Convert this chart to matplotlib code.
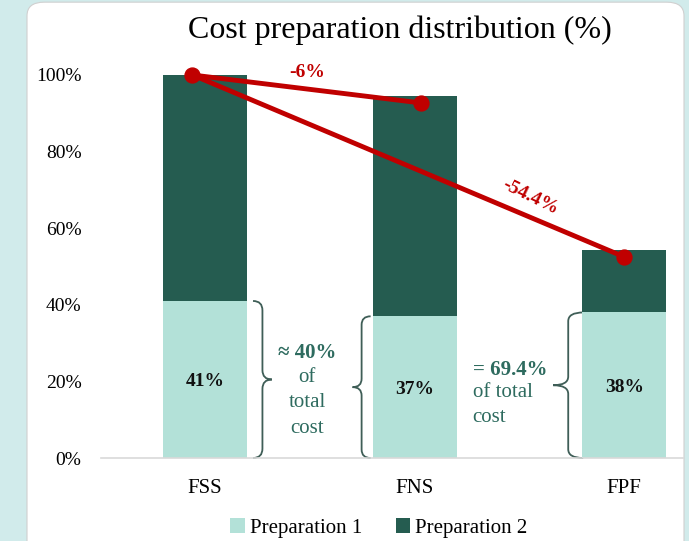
import numpy as np
import matplotlib.pyplot as plt
from matplotlib.patches import FancyBboxPatch, PathPatch
from matplotlib.path import Path

plt.rcParams['font.family'] = ['Liberation Serif', 'DejaVu Serif']

# data
categories = ['FSS', 'FNS', 'FPF']
prep1 = [41, 37, 38]
totals = [100, 94.4, 54.4]
prep2 = [t - p for t, p in zip(totals, prep1)]
line_x = [-0.06, 1.03, 2.0]
line_vals = [100, 92.7, 52.5]
change_labels = ['-6%', '-54.4%']

light = '#b3e1d8'
dark = '#255c50'
red = '#c00000'
note_col = '#2e6b5f'
brace_col = '#3f5e57'


def brace(ax, x, y0, y1, w, color):
    # curly brace from y0 to y1, base at x, tip at x + w
    ym = (y0 + y1) / 2
    r = (y1 - y0) * 0.06
    xm = x + w / 2
    verts = [(x, y0), (xm, y0), (xm, y0 + r),
             (xm, ym - r),
             (xm, ym), (x + w, ym),
             (xm, ym), (xm, ym + r),
             (xm, y1 - r),
             (xm, y1), (x, y1)]
    codes = [Path.MOVETO, Path.CURVE3, Path.CURVE3,
             Path.LINETO,
             Path.CURVE3, Path.CURVE3,
             Path.CURVE3, Path.CURVE3,
             Path.LINETO,
             Path.CURVE3, Path.CURVE3]
    ax.add_patch(PathPatch(Path(verts, codes), fill=False, ec=color, lw=1.3,
                           clip_on=False))


fig = plt.figure(figsize=(6.89, 5.41), dpi=100)
fig.patch.set_facecolor('#d1ebeb')
card = FancyBboxPatch((27 / 689, -0.05), 657 / 689, 1.046,
                      boxstyle='round,pad=0,rounding_size=0.025',
                      transform=fig.transFigure, fc='white', ec='#d0d0d0',
                      lw=0.8, zorder=-10)
fig.patches.append(card)

ax = fig.add_axes([0.1466, 0.1534, 0.8447, 0.7788])
ax.set_facecolor('none')
x = np.arange(len(categories))
ax.bar(x, prep1, 0.4, color=light, label='Preparation 1', zorder=2)
ax.bar(x, prep2, 0.4, bottom=prep1, color=dark, label='Preparation 2', zorder=2)

for xi, p in zip(x, prep1):
    ax.text(xi, p / 2 - 0.5, f'{p}%', ha='center', va='center', fontsize=14,
            fontweight='bold', color='#111111', zorder=3)

# change lines
for j in (1, 2):
    ax.plot([line_x[0], line_x[j]], [line_vals[0], line_vals[j]], color=red,
            lw=3.5, solid_capstyle='round', zorder=4, clip_on=False)
ax.scatter(line_x, line_vals, s=115, color=red, zorder=5, clip_on=False)
ax.text(0.487, 100.6, change_labels[0], color=red, fontsize=14,
        fontweight='bold', ha='center', va='center')
ax.text(1.554, 68.0, change_labels[1], color=red, fontsize=14,
        fontweight='bold', ha='center', va='center', rotation=-26)

# braces and notes
brace(ax, 0.229, 0, prep1[0], 0.09, brace_col)
brace(ax, 0.79, 0, prep1[1], -0.086, brace_col)
brace(ax, 1.804, 0, prep1[2], -0.143, brace_col)
ax.text(0.487, 27.4, '≈ 40%', color=note_col, fontsize=15, fontweight='bold',
        ha='center', va='center')
ax.text(0.487, 14.4, 'of\ntotal\ncost', color=note_col, fontsize=15,
        ha='center', va='center', linespacing=1.45)
ax.text(1.277, 23.0, '= 69.4%', color=note_col, fontsize=15,
        fontweight='bold', ha='left', va='center')
ax.text(1.277, 13.8, 'of total\ncost', color=note_col, fontsize=15,
        ha='left', va='center', linespacing=1.4)

ax.set_xlim(-0.496, 2.28)
ax.set_ylim(0, 110)
ax.set_yticks([0, 20, 40, 60, 80, 100])
ax.set_yticklabels([f'{v}%' for v in [0, 20, 40, 60, 80, 100]], fontsize=14)
ax.set_xticks(x)
ax.set_xticklabels(categories, fontsize=15)
ax.tick_params(length=0, pad=14, axis='y')
ax.tick_params(length=0, pad=15, axis='x')
for s in ['top', 'right', 'left']:
    ax.spines[s].set_visible(False)
ax.spines['bottom'].set_color('#d9d9d9')
ax.spines['bottom'].set_linewidth(1.2)

fig.text(0.58, 0.945, 'Cost preparation distribution (%)', fontsize=23,
         ha='center', va='center')
fig.legend(loc='center', bbox_to_anchor=(379 / 689, 1 - 528 / 541), ncol=2,
           frameon=False, fontsize=15, handlelength=0.7, handleheight=0.7,
           handletextpad=0.25, columnspacing=1.6)

fig.savefig('out.png', dpi=100)
